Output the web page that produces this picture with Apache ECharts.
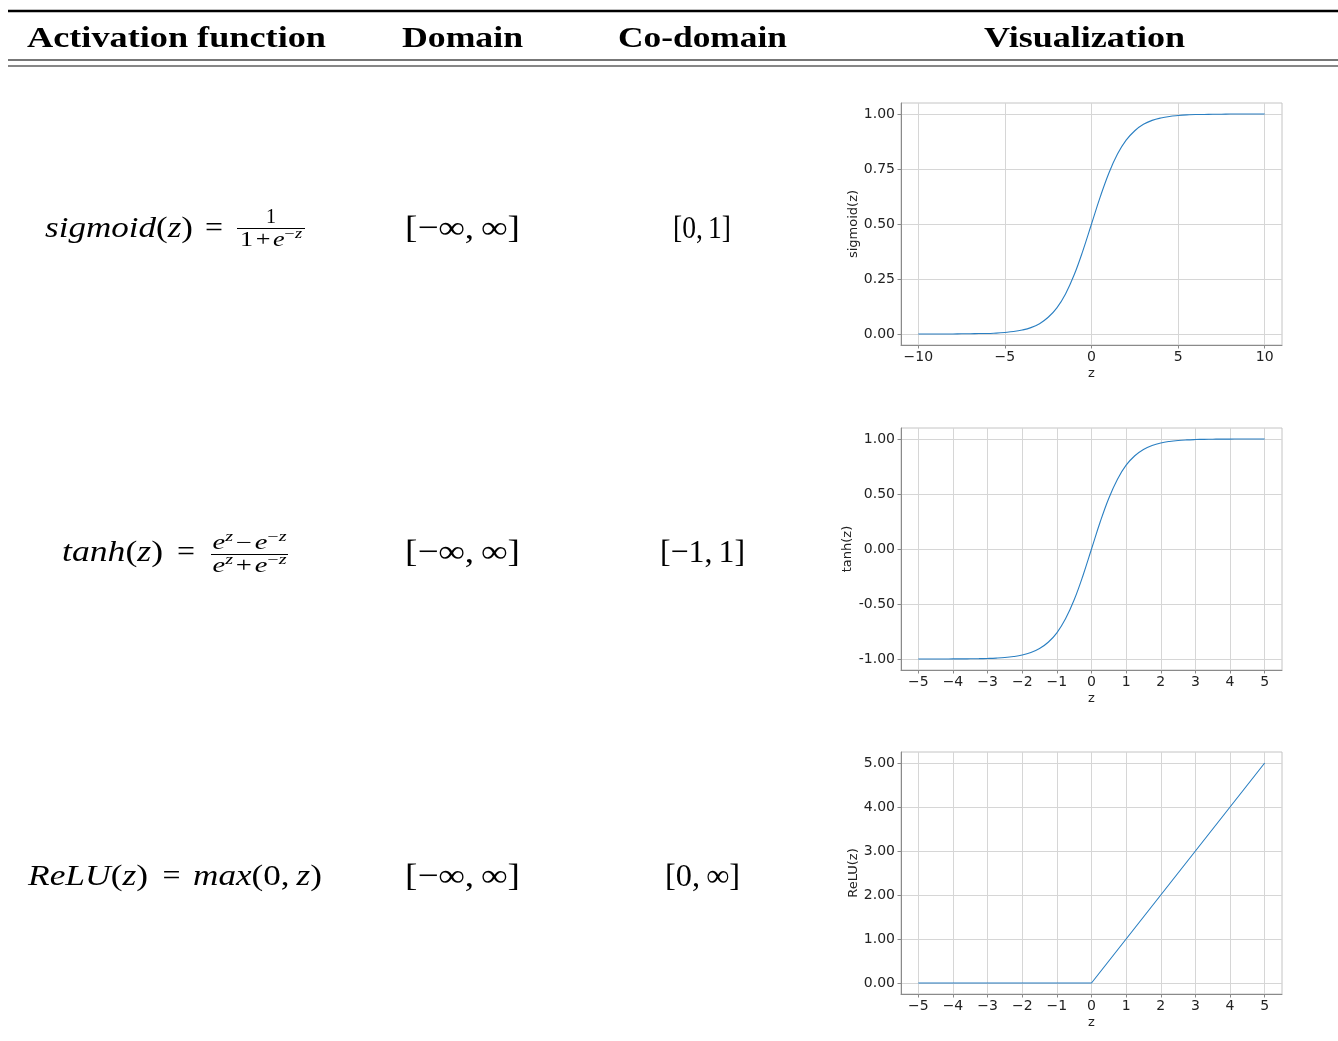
<!DOCTYPE html>
<html>
<head>
<meta charset="utf-8">
<title>Activation functions</title>
<script src="https://cdn.jsdelivr.net/npm/echarts@6/dist/echarts.min.js"></script>
<style>
  html, body { margin: 0; padding: 0; background: #fff; }
  #chart { width: 1338px; height: 1041px; }
</style>
</head>
<body>
<div id="chart"></div>
<script>
// ---- table content ----
const headers = ['Activation function', 'Domain', 'Co-domain', 'Visualization'];
const yNames = ['sigmoid(z)', 'tanh(z)', 'ReLU(z)'];

// ---- plotted samples ----
const sigmoidZ = [-10, -9.5, -9, -8.5, -8, -7.5, -7, -6.5, -6, -5.5, -5, -4.5, -4, -3.5, -3, -2.5, -2, -1.5, -1, -0.5,
  0, 0.5, 1, 1.5, 2, 2.5, 3, 3.5, 4, 4.5, 5, 5.5, 6, 6.5, 7, 7.5, 8, 8.5, 9, 9.5, 10];
const sigmoidVals = [0.000, 0.000, 0.000, 0.000, 0.000, 0.001, 0.001, 0.002, 0.002, 0.004, 0.007, 0.011, 0.018, 0.029, 0.047, 0.076, 0.119, 0.182, 0.269, 0.378,
  0.500, 0.622, 0.731, 0.818, 0.881, 0.924, 0.953, 0.971, 0.982, 0.989, 0.993, 0.996, 0.998, 0.998, 0.999, 0.999, 1.000, 1.000, 1.000, 1.000, 1.000];

const tanhZ = [-5, -4.75, -4.5, -4.25, -4, -3.75, -3.5, -3.25, -3, -2.75, -2.5, -2.25, -2, -1.75, -1.5, -1.25, -1, -0.75, -0.5, -0.25,
  0, 0.25, 0.5, 0.75, 1, 1.25, 1.5, 1.75, 2, 2.25, 2.5, 2.75, 3, 3.25, 3.5, 3.75, 4, 4.25, 4.5, 4.75, 5];
const tanhVals = [-1.000, -1.000, -1.000, -1.000, -0.999, -0.999, -0.998, -0.997, -0.995, -0.992, -0.987, -0.978, -0.964, -0.941, -0.905, -0.848, -0.762, -0.635, -0.462, -0.245,
  0.000, 0.245, 0.462, 0.635, 0.762, 0.848, 0.905, 0.941, 0.964, 0.978, 0.987, 0.992, 0.995, 0.997, 0.998, 0.999, 0.999, 1.000, 1.000, 1.000, 1.000];

const reluZ = [-5, 0, 5];
const reluVals = [0, 0, 5];

// ---- tick values ----
const xTicksWide = [-10, -5, 0, 5, 10];
const xTicksNarrow = [-5, -4, -3, -2, -1, 0, 1, 2, 3, 4, 5];
const sigmoidTicks = [0, 0.25, 0.5, 0.75, 1];
const tanhTicks = [-1, -0.5, 0, 0.5, 1];
const reluTicks = [0, 1, 2, 3, 4, 5];

// ---- text helpers ----
const ctx = document.createElement('canvas').getContext('2d');
function textWidth(t, font) { ctx.font = font; return ctx.measureText(t).width; }
const MI = s => `italic ${s}px "Liberation Serif"`;
const RM = s => `${s}px "Liberation Serif"`;
const BF = s => `bold ${s}px "Liberation Serif"`;

// lay out a run of text pieces left to right, optionally stretched to a width
function run(pieces, x, y, width, align) {
  let cx = 0;
  const kids = [];
  for (const p of pieces) {
    if (p.gap) { cx += p.gap; continue; }
    kids.push({ type: 'text', x: cx, y: p.dy || 0,
      style: { text: p.t, font: p.f, fill: '#000', align: 'left', verticalAlign: 'middle' } });
    cx += textWidth(p.t, p.f);
  }
  const shift = align === 'center' ? -cx / 2 : 0;
  kids.forEach(k => { k.x += shift; });
  return { type: 'group', x, y, scaleX: width ? width / cx : 1, silent: true, children: kids };
}
function hline(x1, x2, y, w, color) {
  return { type: 'line', silent: true, shape: { x1, y1: y, x2, y2: y }, style: { stroke: color, lineWidth: w } };
}
const sup = (t, italic) => ({ t, f: italic ? MI(14) : RM(14), dy: -7 });

const elements = [];
// rules
elements.push(hline(8, 1338, 11, 2.5, '#000'));
elements.push(hline(8, 1338, 60, 2, '#777'));
elements.push(hline(8, 1338, 66, 1.2, '#111'));

// header
const headerBoxes = [[27, 299], [402, 121], [618, 169], [984, 201]];
headers.forEach((h, i) => {
  elements.push(run([{ t: h, f: BF(30) }], headerBoxes[i][0], 39.5, headerBoxes[i][1], 'left'));
});

// row 1: sigmoid
elements.push(run([{ t: 'sigmoid', f: MI(30) }, { t: '(', f: RM(30) }, { t: 'z', f: MI(30) }, { t: ')', f: RM(30) }], 45, 229, 148, 'left'));
elements.push(run([{ t: '=', f: RM(30) }], 214, 229, 18, 'center'));
elements.push(hline(237, 305, 228.5, 1, '#000'));
elements.push(run([{ t: '1', f: RM(20) }], 271, 218, 0, 'center'));
elements.push(run([{ t: '1', f: RM(20) }, { gap: 2 }, { t: '+', f: RM(20) }, { gap: 2 }, { t: 'e', f: MI(20) }, sup('−'), sup('z', true)], 271, 241, 62, 'center'));

// row 2: tanh
elements.push(run([{ t: 'tanh', f: MI(30) }, { t: '(', f: RM(30) }, { t: 'z', f: MI(30) }, { t: ')', f: RM(30) }], 62, 553, 101, 'left'));
elements.push(run([{ t: '=', f: RM(30) }], 186, 553, 18, 'center'));
elements.push(hline(211, 288, 554.5, 1, '#000'));
elements.push(run([{ t: 'e', f: MI(20) }, sup('z', true), { gap: 2 }, { t: '−', f: RM(20) }, { gap: 2 }, { t: 'e', f: MI(20) }, sup('−'), sup('z', true)], 249.5, 544, 74, 'center'));
elements.push(run([{ t: 'e', f: MI(20) }, sup('z', true), { gap: 2 }, { t: '+', f: RM(20) }, { gap: 2 }, { t: 'e', f: MI(20) }, sup('−'), sup('z', true)], 249.5, 567, 74, 'center'));

// row 3: ReLU
elements.push(run([{ t: 'ReLU', f: MI(30) }, { t: '(', f: RM(30) }, { t: 'z', f: MI(30) }, { t: ')', f: RM(30) }], 28, 877, 120, 'left'));
elements.push(run([{ t: '=', f: RM(30) }], 171.5, 877, 18, 'center'));
elements.push(run([{ t: 'max', f: MI(30) }, { t: '(', f: RM(30) }, { t: '0', f: RM(30) }, { t: ',', f: RM(30) }, { gap: 6 }, { t: 'z', f: MI(30) }, { t: ')', f: RM(30) }], 193, 877, 129, 'left'));

// domain / co-domain columns
const interval = (a, b) => [{ t: '[', f: RM(32) }].concat(a, [{ t: ',', f: RM(32) }, { gap: 6 }], b, [{ t: ']', f: RM(32) }]);
const negInf = [{ t: '−', f: RM(32) }, { t: '∞', f: RM(32) }];
const posInf = [{ t: '∞', f: RM(32) }];
const num = n => [{ t: n, f: RM(32) }];
[230, 554, 878].forEach(y => {
  elements.push(run(interval(negInf, posInf), 405, y, 115, 'left'));
});
elements.push(run(interval(num('0'), num('1')), 673, 230, 58, 'left'));
elements.push(run(interval([{ t: '−', f: RM(32) }, { t: '1', f: RM(32) }], num('1')), 660, 554, 85, 'left'));
elements.push(run(interval(num('0'), posInf), 665, 878, 75, 'left'));

// ---- plots ----
const tops = [103, 428, 752];
const grids = tops.map(t => ({ left: 901, top: t, width: 381, height: 242, show: true, borderColor: '#c4c4c4', borderWidth: 1, backgroundColor: 'transparent' }));

const labelFont = { fontFamily: 'DejaVu Sans', fontSize: 14, color: '#222' };
function xAxisFor(i, min, max, ticks) {
  return {
    type: 'value', gridIndex: i, min, max,
    name: 'z', nameLocation: 'middle', nameGap: 22,
    nameTextStyle: { fontFamily: 'DejaVu Sans', fontSize: 13, color: '#222' },
    axisLine: { onZero: false, lineStyle: { color: '#8a8a8a', width: 1 } },
    axisTick: { show: true, length: 3.5, customValues: ticks, lineStyle: { color: '#8a8a8a' } },
    axisLabel: Object.assign({ margin: 5, customValues: ticks, formatter: v => String(v).replace('-', '−') }, labelFont),
    splitLine: { show: true, lineStyle: { color: '#d6d6d6', width: 1 } }
  };
}
function yAxisFor(i, min, max, ticks, name, gap) {
  return {
    type: 'value', gridIndex: i, min, max,
    name, nameLocation: 'middle', nameGap: gap, nameRotate: 90,
    nameTextStyle: { fontFamily: 'DejaVu Sans', fontSize: 13, color: '#222' },
    axisLine: { show: true, onZero: false, lineStyle: { color: '#8a8a8a', width: 1 } },
    axisTick: { show: true, length: 3.5, customValues: ticks, lineStyle: { color: '#8a8a8a' } },
    axisLabel: Object.assign({ margin: 6, customValues: ticks, formatter: v => v.toFixed(2) }, labelFont),
    splitLine: { show: true, lineStyle: { color: '#d6d6d6', width: 1 } }
  };
}
const zip = (xs, ys) => xs.map((x, i) => [x, ys[i]]);
const lineSeries = (i, data, smooth) => ({
  type: 'line', xAxisIndex: i, yAxisIndex: i, data, showSymbol: false, symbol: 'none',
  smooth, lineStyle: { color: '#2a7fc2', width: 1.1 }, silent: true
});

const option = {
  animation: false,
  backgroundColor: '#fff',
  grid: grids,
  xAxis: [
    xAxisFor(0, -11, 11, xTicksWide),
    xAxisFor(1, -5.5, 5.5, xTicksNarrow),
    xAxisFor(2, -5.5, 5.5, xTicksNarrow)
  ],
  yAxis: [
    yAxisFor(0, -0.05, 1.05, sigmoidTicks, yNames[0], 41),
    yAxisFor(1, -1.1, 1.1, tanhTicks, yNames[1], 47),
    yAxisFor(2, -0.25, 5.25, reluTicks, yNames[2], 41)
  ],
  series: [
    lineSeries(0, zip(sigmoidZ, sigmoidVals), 0.4),
    lineSeries(1, zip(tanhZ, tanhVals), 0.4),
    lineSeries(2, zip(reluZ, reluVals), false)
  ],
  graphic: { elements }
};

const chart = echarts.init(document.getElementById('chart'), null, { renderer: 'canvas' });
chart.setOption(option);
</script>
</body>
</html>
